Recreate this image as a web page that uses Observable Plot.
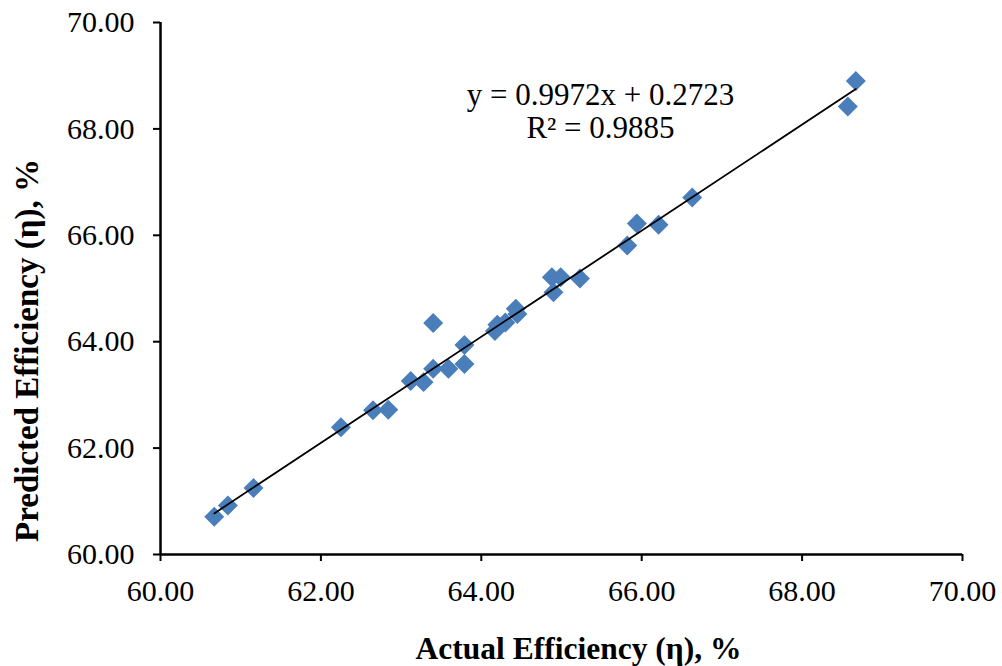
<!DOCTYPE html>
<html>
<head>
<meta charset="utf-8">
<script src="https://cdn.jsdelivr.net/npm/d3@7"></script>
<script src="https://cdn.jsdelivr.net/npm/@observablehq/plot@0.6"></script>
<style>
  html, body { margin: 0; padding: 0; background: #fff; }
</style>
</head>
<body>
<div id="chart"></div>
<script>
// Actual vs predicted efficiency (%)
const actual =    [60.67, 60.84, 61.16, 62.25, 62.65, 62.84, 63.12, 63.28, 63.40, 63.59, 63.79, 63.79, 63.40, 64.17, 64.20, 64.30, 64.43, 64.45, 64.88, 64.99, 64.90, 65.23, 65.82, 65.94, 66.21, 66.63, 68.57, 68.67];
const predicted = [60.71, 60.92, 61.25, 62.39, 62.71, 62.72, 63.26, 63.24, 63.49, 63.49, 63.58, 63.94, 64.35, 64.20, 64.32, 64.36, 64.62, 64.52, 65.21, 65.21, 64.93, 65.19, 65.81, 66.22, 66.20, 66.71, 68.42, 68.90];
const ticks = [60, 62, 64, 66, 68, 70];
const slope = 0.9972, intercept = 0.2723;
const eqLines = ["y = 0.9972x + 0.2723", "R² = 0.9885"];
const xLabel = "Actual Efficiency (η), %";
const yLabel = "Predicted Efficiency (η), %";

const points = actual.map((a, i) => ({x: a, y: predicted[i]}));
const xMin = d3.min(actual), xMax = d3.max(actual);
const trend = [xMin, xMax].map(x => ({x, y: slope * x + intercept}));

const chart = Plot.plot({
  width: 1002,
  height: 666,
  marginLeft: 160,
  marginRight: 40,
  marginTop: 22,
  marginBottom: 112,
  style: {fontFamily: "'Liberation Serif', 'Times New Roman', serif", fontSize: "30px", color: "#000", background: "#fff"},
  x: {domain: [60, 70]},
  y: {domain: [60, 70]},
  marks: [
    Plot.axisX({ticks, tickFormat: d3.format(".2f"), tickSize: 7, tickPadding: 18, strokeWidth: 2, label: null, fontSize: 30}),
    Plot.axisY({ticks, tickFormat: d3.format(".2f"), tickSize: 7, tickPadding: 19, strokeWidth: 2, label: null, fontSize: 30}),
    Plot.ruleX([60], {stroke: "#000", strokeWidth: 2.5}),
    Plot.ruleY([60], {stroke: "#000", strokeWidth: 2.5}),
    Plot.dot(points, {x: "x", y: "y", symbol: "diamond2", r: 9, fill: "#4A7EBB", stroke: "none"}),
    Plot.line(trend, {x: "x", y: "y", stroke: "#000", strokeWidth: 1.8}),
    Plot.text([eqLines[0]], {frameAnchor: "top", dx: 39, dy: 73, fontSize: 31, lineAnchor: "middle"}),
    Plot.text([eqLines[1]], {frameAnchor: "top", dx: 39, dy: 106, fontSize: 31, lineAnchor: "middle"}),
    Plot.text([xLabel], {frameAnchor: "bottom", dx: 17, dy: 94, fontSize: 31.5, fontWeight: "bold", lineAnchor: "middle"}),
    Plot.text([yLabel], {frameAnchor: "left", textAnchor: "middle", dx: -133, dy: 62, rotate: -90, fontSize: 33, fontWeight: "bold", lineAnchor: "middle"})
  ]
});
d3.select(chart).selectAll('g[aria-label$="tick label"]').attr("font-size", 30).style("font-size", "30px");
document.getElementById("chart").appendChild(chart);
</script>
</body>
</html>
